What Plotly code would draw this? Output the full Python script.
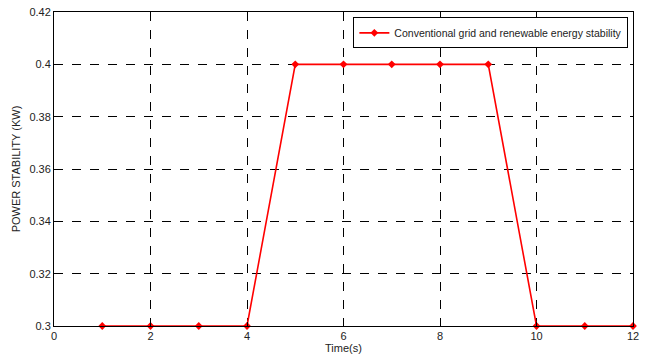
import plotly.graph_objects as go

# Time samples (s) and measured power stability (KW)
time_s = [1, 2, 3, 4, 5, 6, 7, 8, 9, 10, 11, 12]
stability_kw = [0.3, 0.3, 0.3, 0.3, 0.4, 0.4, 0.4, 0.4, 0.4, 0.3, 0.3, 0.3]
series_name = "Conventional grid and renewable energy stability"

x_ticks = [0, 2, 4, 6, 8, 10, 12]
y_ticks = [0.3, 0.32, 0.34, 0.36, 0.38, 0.4, 0.42]
y_tick_text = ["0.3", "0.32", "0.34", "0.36", "0.38", "0.4", "0.42"]

FONT = "Liberation Sans, Arial, sans-serif"

fig = go.Figure()
fig.add_trace(go.Scatter(
    x=time_s, y=stability_kw, mode="lines+markers", name=series_name,
    line=dict(color="#ff0000", width=1.6),
    marker=dict(symbol="diamond", size=6, color="#ff0000"),
    cliponaxis=False,
))

axis_common = dict(
    showline=True, linecolor="black", linewidth=1, mirror=True,
    ticks="inside", ticklen=4, tickcolor="black",
    showgrid=True, gridcolor="black", griddash="dash", gridwidth=1,
    zeroline=False, tickfont=dict(family=FONT, size=11, color="#222"),
)

fig.update_xaxes(range=[0, 12], tickvals=x_ticks,
                 title=dict(text="Time(s)", standoff=2, font=dict(family=FONT, size=11, color="#222")),
                 **axis_common)
fig.update_yaxes(range=[0.3, 0.42], tickvals=y_ticks, ticktext=y_tick_text,
                 title=dict(text="POWER STABILITY (KW)", standoff=6,
                            font=dict(family=FONT, size=11, color="#222")),
                 **axis_common)

fig.update_layout(
    width=645, height=358,
    margin=dict(l=54, r=6, t=9, b=29),
    paper_bgcolor="white", plot_bgcolor="white",
    showlegend=True,
    legend=dict(x=0.992, y=0.983, xanchor="right", yanchor="top",
                bgcolor="white", bordercolor="black", borderwidth=1,
                font=dict(family=FONT, size=10.5, color="#222"),
                itemwidth=30, tracegroupgap=0),
)

fig.write_html("out.html")
